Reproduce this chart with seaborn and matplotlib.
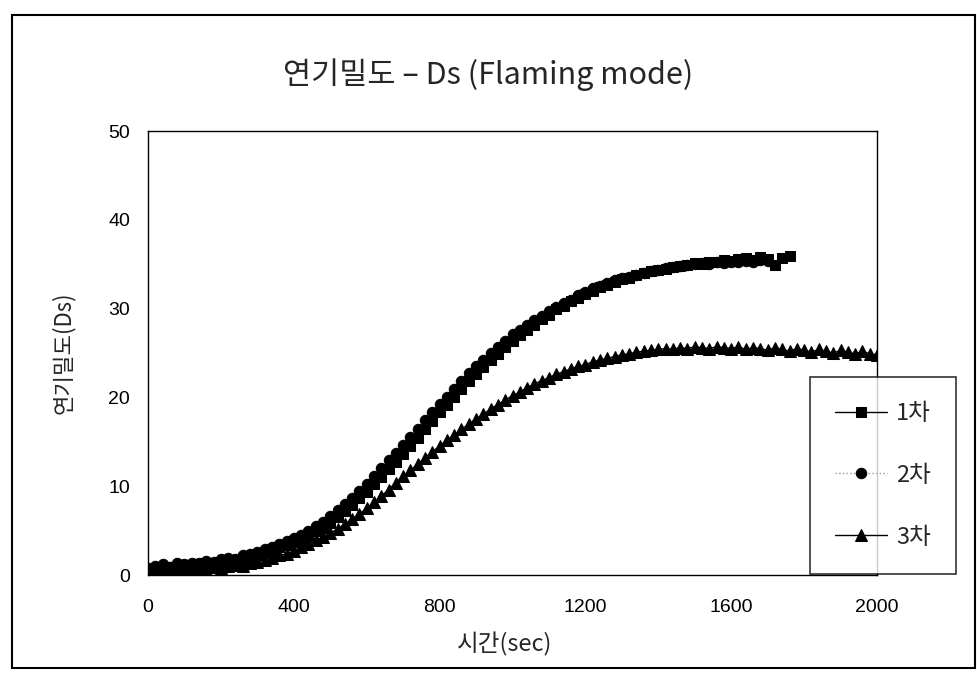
import numpy as np
import pandas as pd
import matplotlib
matplotlib.use("Agg")
import matplotlib.pyplot as plt
import matplotlib.patches as patches
import seaborn as sns

# sampling interval of the smoke chamber readings (sec)
step = 20

# 1차 (squares), 0 .. 1760 s
ds_1 = [0.4, 0.7, 0.5, 0.9, 0.8, 1.0, 0.8, 1.1, 1.3, 1.2,
        1.4, 1.6, 1.5, 1.9, 2.1, 2.3, 2.6, 2.8, 3.1, 3.4,
        3.7, 4.0, 4.4, 4.9, 5.3, 5.9, 6.5, 7.2, 7.9, 8.7,
        9.4, 10.2, 11.0, 11.9, 12.7, 13.6, 14.5, 15.4, 16.4, 17.3,
        18.3, 19.1, 20.0, 20.9, 21.8, 22.6, 23.4, 24.2, 24.9, 25.7,
        26.4, 27.0, 27.6, 28.2, 28.8, 29.3, 29.9, 30.3, 30.8, 31.2,
        31.7, 32.0, 32.4, 32.7, 33.0, 33.3, 33.5, 33.8, 34.0, 34.2,
        34.4, 34.5, 34.7, 34.8, 34.9, 35.1, 35.0, 35.3, 35.2, 35.5,
        35.4, 35.6, 35.7, 35.5, 35.8, 35.6, 34.9, 35.7, 35.9]

# 2차 (circles), 0 .. 1700 s
ds_2 = [0.8, 1.0, 1.2, 0.9, 1.3, 1.2, 1.4, 1.3, 1.6, 1.5,
        1.8, 1.9, 1.8, 2.2, 2.4, 2.6, 2.9, 3.1, 3.5, 3.8,
        4.2, 4.5, 5.0, 5.5, 6.0, 6.6, 7.3, 8.0, 8.7, 9.5,
        10.3, 11.1, 12.0, 12.9, 13.7, 14.6, 15.5, 16.4, 17.4, 18.3,
        19.3, 20.1, 21.0, 21.9, 22.7, 23.5, 24.2, 25.0, 25.7, 26.4,
        27.1, 27.6, 28.2, 28.7, 29.2, 29.7, 30.2, 30.6, 31.0, 31.5,
        31.9, 32.3, 32.6, 32.9, 33.2, 33.4, 33.6, 33.8, 34.0, 34.2,
        34.4, 34.6, 34.7, 34.8, 34.9, 35.0, 35.1, 35.0, 35.2, 35.1,
        35.3, 35.2, 35.4, 35.3, 35.5, 35.4]

# 3차 (triangles), 0 .. 2000 s
ds_3 = [0.2, 0.5, 0.3, 0.6, 0.4, 0.7, 0.5, 0.8, 0.6, 0.9,
        0.8, 1.0, 1.1, 1.0, 1.3, 1.5, 1.7, 1.9, 2.2, 2.4,
        2.7, 3.1, 3.5, 3.9, 4.3, 4.7, 5.2, 5.7, 6.3, 6.9,
        7.5, 8.2, 8.9, 9.6, 10.4, 11.1, 11.8, 12.5, 13.2, 13.9,
        14.5, 15.2, 15.8, 16.4, 17.0, 17.6, 18.1, 18.7, 19.2, 19.7,
        20.2, 20.6, 21.1, 21.5, 21.9, 22.2, 22.6, 22.9, 23.2, 23.5,
        23.7, 24.0, 24.2, 24.4, 24.6, 24.8, 24.9, 25.1, 25.2, 25.3,
        25.4, 25.5, 25.4, 25.6, 25.5, 25.7, 25.6, 25.5, 25.7, 25.6,
        25.5, 25.7, 25.4, 25.6, 25.5, 25.3, 25.6, 25.4, 25.2, 25.5,
        25.3, 25.1, 25.4, 25.2, 25.0, 25.3, 25.1, 24.9, 25.2, 24.9,
        24.8]

labels = ["1차", "2차", "3차"]
x_ticks = [0, 400, 800, 1200, 1600, 2000]
y_ticks = [0, 10, 20, 30, 40, 50]

sns.set_style("white")
plt.rcParams['font.family'] = ['Noto Sans CJK KR', 'DejaVu Sans']

fig = plt.figure(figsize=(9.77, 6.75), dpi=100)
ax = fig.add_axes([148/977, 1-575/675, (877-148)/977, (575-131)/675])

series = [ds_1, ds_2, ds_3]
styles = [dict(marker="s", linestyle="-", color="black", ms=7),
          dict(marker="o", linestyle=":", color="0.6", ms=7.5),
          dict(marker="^", linestyle="-", color="black", ms=8.5)]
for vals, lab, st in zip(series, labels, styles):
    df = pd.DataFrame({"t": np.arange(len(vals)) * step, "ds": vals})
    sns.lineplot(data=df, x="t", y="ds", ax=ax, label=lab,
                 color=st["color"], linestyle=st["linestyle"], linewidth=1,
                 marker=st["marker"], markersize=st["ms"],
                 markerfacecolor="black", markeredgecolor="black")

ax.set_xlim(0, 2000)
ax.set_ylim(0, 50)
ax.set_xticks(x_ticks)
ax.set_yticks(y_ticks)
ax.set_xticklabels([str(v) for v in x_ticks], family="Liberation Sans", fontsize=14)
ax.set_yticklabels([str(v) for v in y_ticks], family="Liberation Sans", fontsize=14)
ax.tick_params(axis="x", direction="in", length=5, pad=17, colors="black")
ax.tick_params(axis="y", direction="out", length=4, pad=9, colors="black")
for s in ax.spines.values():
    s.set_color("black")
    s.set_linewidth(1)

ax.set_xlabel("시간(sec)", fontsize=17, labelpad=6)
ax.xaxis.set_label_coords((505-148)/729, -0.13)
ax.set_ylabel("연기밀도(Ds)", fontsize=16, labelpad=24)
fig.text(0.5, 1-75/675, "연기밀도 – Ds (Flaming mode)", ha="center", va="center", fontsize=22)

ax.get_legend().remove()
h, l = ax.get_legend_handles_labels()
leg = fig.legend(h, l, loc="upper left", bbox_to_anchor=(810/977, 1-377/675),
                 borderaxespad=0, frameon=True, fancybox=False, edgecolor="black",
                 fontsize=17, labelspacing=1.65, handlelength=2.2, borderpad=1.05,
                 handletextpad=0.4)
leg.get_frame().set_linewidth(1.2)

# outer chart border
fig.patches.append(patches.Rectangle((12/977, 7/675), 963/977, 653/675, fill=False,
                                     edgecolor="black", linewidth=1.5,
                                     transform=fig.transFigure, figure=fig))

fig.savefig("out.png", dpi=100, facecolor="white")
